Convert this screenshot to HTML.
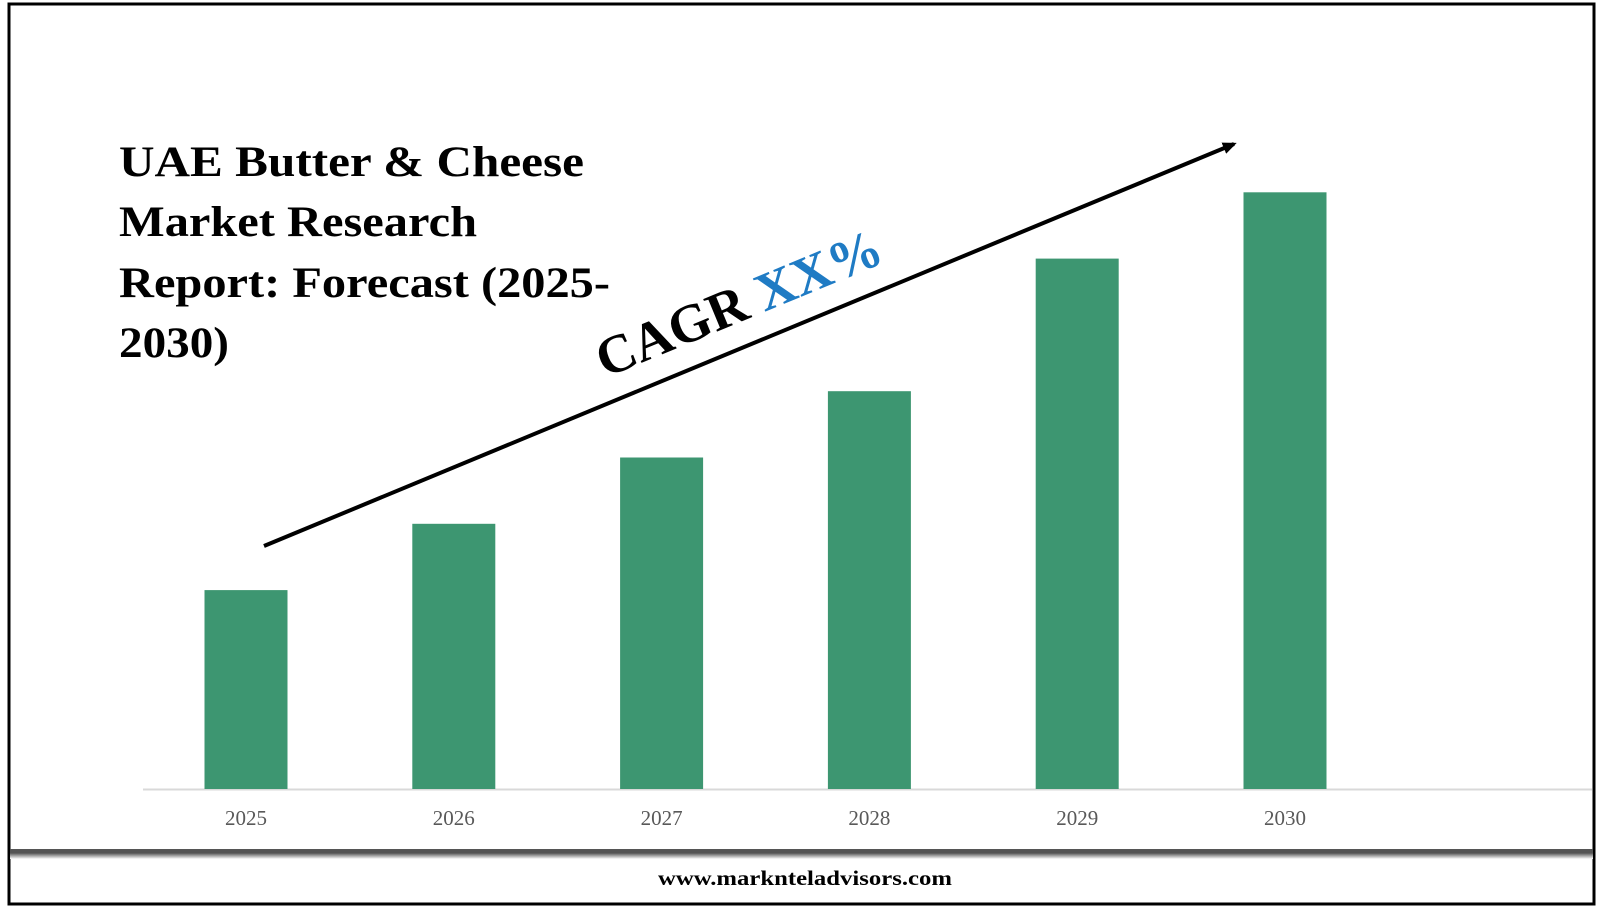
<!DOCTYPE html>
<html><head><meta charset="utf-8"><style>
html,body{margin:0;padding:0;background:#fff;}
svg{display:block;}
</style></head><body>
<svg width="1602" height="907" viewBox="0 0 1602 907" xmlns="http://www.w3.org/2000/svg">
<defs>
<linearGradient id="sh" x1="0" y1="0" x2="0" y2="1"><stop offset="0" stop-color="#555"/><stop offset="1" stop-color="#fff"/></linearGradient>
<marker id="ah" markerWidth="14" markerHeight="12" refX="11" refY="6" orient="auto" markerUnits="userSpaceOnUse"><path d="M0,0 L14,6 L0,12 Z" fill="#000"/></marker>
</defs>
<rect x="9" y="4" width="1585" height="900" fill="#fff" stroke="#000" stroke-width="3"/>
<rect x="10" y="849" width="1583" height="4" fill="#555"/>
<rect x="10" y="853" width="1583" height="6" fill="url(#sh)"/>
<line x1="143" y1="789.5" x2="1592" y2="789.5" stroke="#d9d9d9" stroke-width="2"/>
<g id="bars"></g>
<g id="labels" font-family="Liberation Serif, serif" font-size="21" fill="#595959" text-anchor="middle"></g>
<g font-family="Liberation Serif, serif" font-weight="bold" font-size="43" fill="#000">
<text x="119" y="176" textLength="465" lengthAdjust="spacingAndGlyphs">UAE Butter &amp; Cheese</text>
<text x="119" y="236" textLength="358" lengthAdjust="spacingAndGlyphs">Market Research</text>
<text x="119" y="297" textLength="491" lengthAdjust="spacingAndGlyphs">Report: Forecast (2025-</text>
<text x="119" y="357" textLength="110" lengthAdjust="spacingAndGlyphs">2030)</text>
</g>
<line x1="264" y1="546" x2="1234" y2="144" stroke="#000" stroke-width="4" marker-end="url(#ah)"/>
<text transform="translate(605,378) rotate(-22.5)" font-family="Liberation Serif, serif" font-weight="bold" font-size="54" fill="#000">CAGR <tspan fill="#1f7bc4">XX%</tspan></text>
<text x="805" y="885" text-anchor="middle" font-family="Liberation Serif, serif" font-weight="bold" font-size="21" fill="#000" textLength="294" lengthAdjust="spacingAndGlyphs">www.marknteladvisors.com</text>
</svg>
<script>
const categories=["2025","2026","2027","2028","2029","2030"];
const values=[3.0,4.0,5.0,6.0,8.0,9.0];
const baseY=789, pxPerUnit=66.3, x0=246, step=207.8, bw=83;
function xPos(i){return x0+i*step;}
function yPos(v){return baseY-v*pxPerUnit;}
const ns="http://www.w3.org/2000/svg";
const bg=document.getElementById('bars'), lg=document.getElementById('labels');
categories.forEach((c,i)=>{
  const r=document.createElementNS(ns,'rect');
  r.setAttribute('x',xPos(i)-bw/2);r.setAttribute('y',yPos(values[i]));
  r.setAttribute('width',bw);r.setAttribute('height',baseY-yPos(values[i]));
  r.setAttribute('fill','#3d9671');
  
  
  bg.appendChild(r);
  const t=document.createElementNS(ns,'text');
  t.setAttribute('x',xPos(i));t.setAttribute('y',825);t.textContent=c;
  
  
  lg.appendChild(t);
});
</script>
</body></html>
